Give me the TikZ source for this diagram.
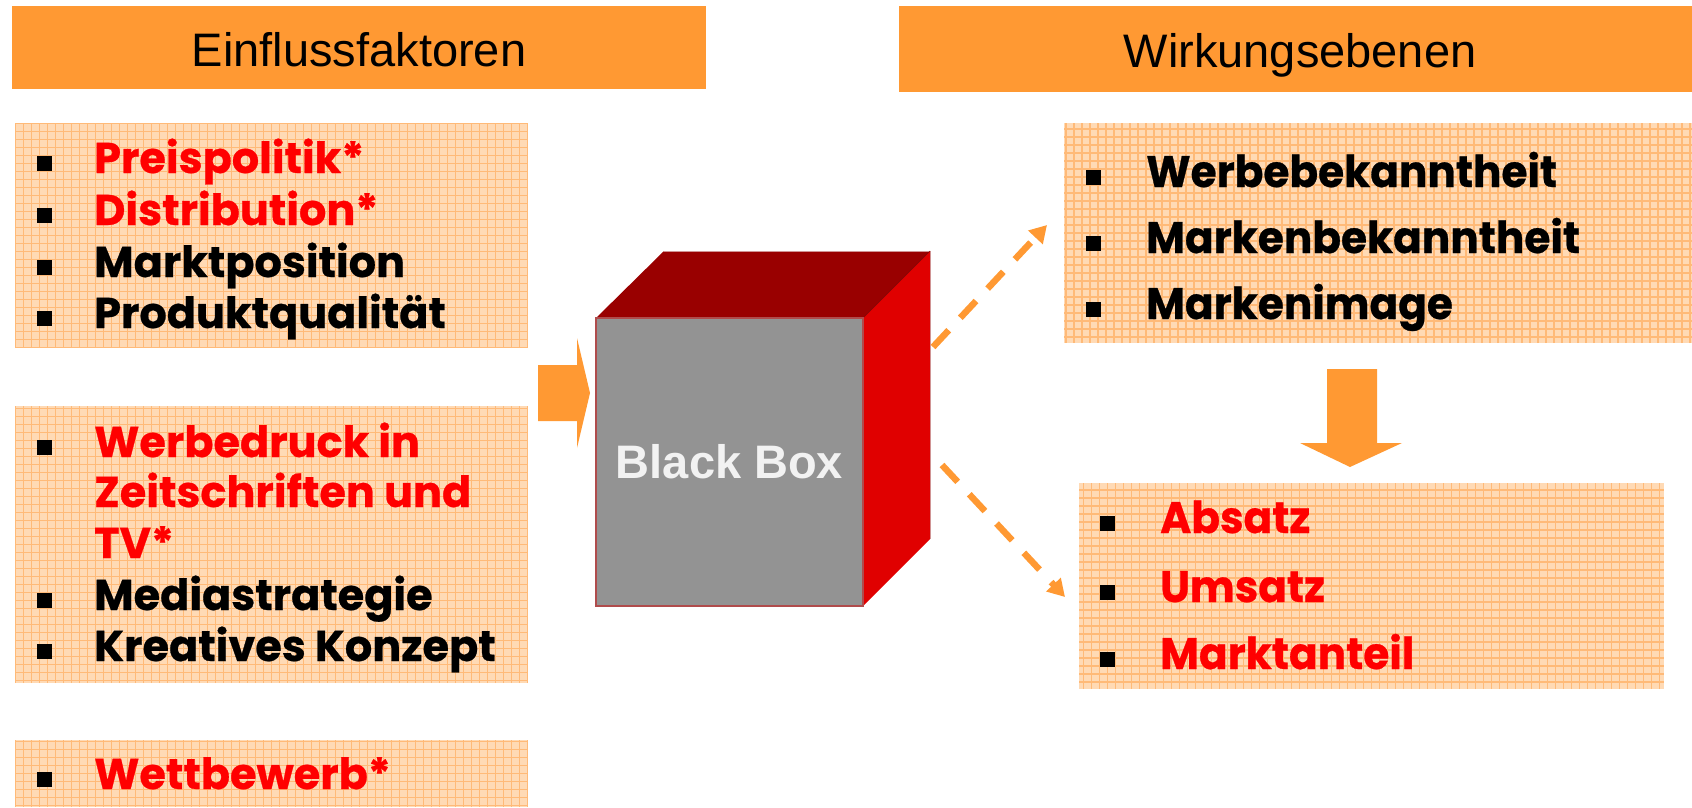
\documentclass[tikz,border=0pt]{standalone}
\usepackage{fontspec}
\setmainfont{Liberation Sans}
\newfontfamily\futfont{Poppins}[BoldFeatures={FakeBold=0.6}]
\newfontfamily\futfontR{Poppins}[FakeStretch=0.96, BoldFeatures={FakeBold=0.6}]
\usetikzlibrary{arrows.meta}
\definecolor{org}{HTML}{FF9933}
\definecolor{texbg}{HTML}{FFDAB5}
\definecolor{texline}{HTML}{FFBA78}
\definecolor{cubetop}{HTML}{990000}
\definecolor{cubeside}{HTML}{E00000}
\definecolor{cubefront}{HTML}{939393}
\definecolor{cubeedge}{HTML}{B04C4C}
\definecolor{boxtext}{HTML}{F2F2F2}
\definecolor{itemred}{HTML}{FF0000}
\begin{document}
\begin{tikzpicture}[x=1pt,y=-1pt,
  header/.style={fill=org, inner sep=0, outer sep=0, anchor=north west},
  htext/.style={anchor=base, inner sep=0, font=\fontsize{47}{56}\selectfont},
  texbox/.style={fill=texbg, inner sep=0, outer sep=0, anchor=north west,
    path picture={\draw[texline, line width=1.6pt, step=8pt]
      (path picture bounding box.south west) grid (path picture bounding box.north east);}},
  bul/.style={fill=black, inner sep=0, outer sep=0, minimum size=15pt, anchor=south west},
  itemL/.style={anchor=base west, inner sep=0, font=\futfont\bfseries\fontsize{43}{50}\selectfont},
  itemR/.style={anchor=base west, inner sep=0, font=\futfontR\bfseries\fontsize{44}{54}\selectfont},
  dasharrow/.style={draw=org, line width=6.5pt, dash pattern=on 23pt off 17pt,
    -{Triangle[length=17pt,width=19pt]}},
  blockarrow/.style={fill=org, draw=none}]
\useasboundingbox (0,0) rectangle (1692,807);

% headers
\node[header, minimum width=694pt, minimum height=83pt] (h1) at (12,6) {};
\node[htext] (h1t) at (359,66) {Einflussfaktoren};
\node[header, minimum width=793pt, minimum height=86pt] (h2) at (899,6) {};
\node[htext] (h2t) at (1300,67) {Wirkungsebenen};

% left boxes
\node[texbox, minimum width=513pt, minimum height=225pt] (b1) at (15,123) {};
\node[texbox, minimum width=513pt, minimum height=277pt] (b2) at (15,406) {};
\node[texbox, minimum width=513pt, minimum height=67pt] (b3) at (15,740) {};
% right boxes
\node[texbox, minimum width=628pt, minimum height=220pt] (r1) at (1064,123) {};
\node[texbox, minimum width=585pt, minimum height=206pt] (r2) at (1079,483) {};

% box 1 items
\node[bul] (q11) at (37,171) {};
\node[itemL, text=itemred] (t11) at (94,173) {Preispolitik*};
\node[bul] (q12) at (37,223) {};
\node[itemL, text=itemred] (t12) at (94,225) {Distribution*};
\node[bul] (q13) at (37,275) {};
\node[itemL] (t13) at (94,277) {Marktposition};
\node[bul] (q14) at (37,326) {};
\node[itemL] (t14) at (94,328) {Produktqualität};

% box 2 items
\node[bul] (q21) at (37,455) {};
\node[itemL, text=itemred] (t21) at (94,457) {Werbedruck in};
\node[itemL, text=itemred] (t22) at (94,507) {Zeitschriften und};
\node[itemL, text=itemred] (t23) at (94,558) {TV*};
\node[bul] (q24) at (37,608) {};
\node[itemL] (t24) at (94,610) {Mediastrategie};
\node[bul] (q25) at (37,659) {};
\node[itemL] (t25) at (94,661) {Kreatives Konzept};

% box 3 items
\node[bul] (q31) at (37,787) {};
\node[itemL, text=itemred] (t31) at (94,789) {Wettbewerb*};

% right box 1 items
\node[bul] (p11) at (1086,185) {};
\node[itemR] (s11) at (1146,187) {Werbebekanntheit};
\node[bul] (p12) at (1086,251) {};
\node[itemR] (s12) at (1146,253) {Markenbekanntheit};
\node[bul] (p13) at (1086,317) {};
\node[itemR] (s13) at (1146,319) {Markenimage};

% right box 2 items
\node[bul] (p21) at (1100,531) {};
\node[itemR, text=itemred] (s21) at (1160,533) {Absatz};
\node[bul] (p22) at (1100,600) {};
\node[itemR, text=itemred] (s22) at (1160,602) {Umsatz};
\node[bul] (p23) at (1100,667) {};
\node[itemR, text=itemred] (s23) at (1160,669) {Marktanteil};

% cube
\fill[cubetop] (596,318) -- (664,251) -- (930,251) -- (863,318) -- cycle;
\fill[cubeside] (863,318) -- (930,251) -- (930,539) -- (863,606) -- cycle;
\draw[cubeedge!60, line width=0.8pt] (664,251) -- (930,251) -- (930,539);
\draw[cubetop!80!black, line width=0.5pt] (863,318) -- (930,251);
\node[fill=cubefront, draw=cubeedge, line width=2pt, inner sep=0, outer sep=0,
  minimum width=267pt, minimum height=288pt, anchor=north west,
  text=boxtext, font=\bfseries\fontsize{47}{56}\selectfont] (bb) at (596,318) {Black Box};

% input block arrow
\fill[blockarrow] (538,365) -- (577,365) -- (577,338) -- (590,393) -- (577,448)
  -- (577,421) -- (538,421) -- cycle;

% down block arrow
\fill[blockarrow] (1327,369) -- (1377,369) -- (1377,443) -- (1402,443) -- (1350,467)
  -- (1300,443) -- (1327,443) -- cycle;

% dashed arrows
\coordinate (u1) at (933,347);
\coordinate (u2) at (1047,225);
\coordinate (d1) at (942,465);
\coordinate (d2) at (1065,597);
\draw[dasharrow] (u1) -- (u2);
\draw[dasharrow] (d1) -- (d2);
\end{tikzpicture}
\end{document}
